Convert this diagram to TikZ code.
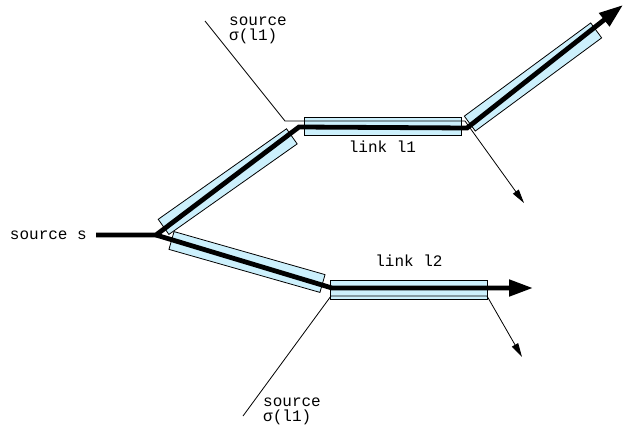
\documentclass[tikz,border=0pt]{standalone}
\usepackage{fontspec}
\setmonofont{Liberation Mono}
\usetikzlibrary{arrows,arrows.meta,positioning}
\definecolor{linkfill}{RGB}{204,240,252}

\begin{document}
\begin{tikzpicture}[x=1pt,y=-1pt,>=stealth',
  link box/.style={draw,fill=linkfill,line width=0.8pt,inner sep=0pt,
    minimum width=157pt,minimum height=18.5pt},
  lbl/.style={font=\ttfamily\fontsize{16}{15}\selectfont,inner sep=0pt,align=left},
  flow/.style={line width=4.8pt},
  sigma/.style={line width=0.8pt}]

  \useasboundingbox (0,0) rectangle (624,425);

  % link segments
  \node[link box,rotate=35.2] (up1) at (227.7,181.6) {};
  \node[link box] (l1) at (382.5,126.5) {};
  \node[link box,rotate=36.4] (up2) at (533,77) {};
  \node[link box,rotate=-15.9] (dn1) at (247,262) {};
  \node[link box] (l2) at (409,290) {};

  \node[lbl,below=5pt of l1] (l1lbl) {link l1};
  \node[lbl,above=14pt of l2] (l2lbl) {link l2};

  % points along the flows
  \coordinate (start) at (96,235);
  \coordinate (s) at (156,235);
  \coordinate (a) at (299,127);
  \coordinate (b) at (467,128);
  \coordinate (upend) at (623,5);
  \coordinate (c) at (332,288);
  \coordinate (dnend) at (533,288);

  \node[lbl,left=9pt of start] (srcs) {source s};

  % sigma(l1) cross traffic
  \coordinate (t0) at (205,21);
  \coordinate (t1) at (285,121);
  \coordinate (t2) at (465,121);
  \coordinate (t3) at (524,203);
  \coordinate (u0) at (243,416);
  \coordinate (u1) at (331,296);
  \coordinate (u2) at (487,296);
  \coordinate (u3) at (522,357);

  \node[lbl,anchor=base west] (sig1) at (229,41) {source\\σ(l1)};
  \node[lbl,anchor=base west] (sig2) at (263,421) {source\\σ(l1)};

  \draw[sigma,-{Triangle[length=14pt,width=7pt]}] (t0) -- (t1) -- (t2) -- (t3);
  \draw[sigma,-{Triangle[length=14pt,width=7pt]}] (u0) -- (u1) -- (u2) -- (u3);

  \draw[flow,-{Triangle[length=24pt,width=16pt]}] (start) -- (s) -- (a) -- (b) -- (upend);
  \draw[flow,-{Triangle[length=24pt,width=16pt]}] (s) -- (c) -- (dnend);
\end{tikzpicture}
\end{document}
